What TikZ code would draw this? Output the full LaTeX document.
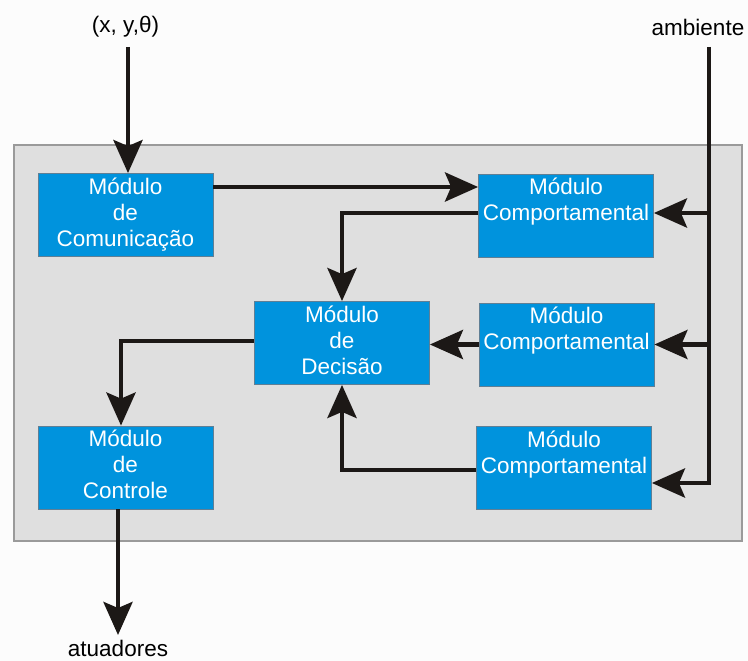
\documentclass[tikz,border=0pt]{standalone}
\usepackage{fontspec}
\setmainfont{Liberation Sans}
\usetikzlibrary{arrows.meta}
\definecolor{boxblue}{HTML}{0093DD}
\definecolor{boxedge}{HTML}{5F7F95}
\definecolor{panel}{HTML}{DFDFDF}
\definecolor{paneledge}{HTML}{9A9A9A}
\definecolor{ink}{HTML}{1C1816}
\definecolor{bg}{HTML}{FCFCFC}
\tikzset{
  modbox/.style={draw=boxedge, line width=0.8pt, fill=boxblue, text=white,
    align=center, minimum width=175pt, minimum height=83pt, inner sep=0pt,
    font=\fontsize{22.5}{26}\selectfont},
  flow/.style={draw=ink, line width=4.5pt, line join=miter,
    -{Stealth[length=33pt,width=29pt,inset=6pt]}},
  lab/.style={font=\fontsize{22.5}{26}\selectfont, text=black, inner sep=0pt, anchor=base}
}
\begin{document}
\begin{tikzpicture}[x=1pt,y=-1pt]
  \fill[bg] (0,0) rectangle (748,661);
  \useasboundingbox (0,0) rectangle (748,661);
  \draw[fill=panel, draw=paneledge, line width=1.2pt] (14,145) rectangle (742,541);

  \node[modbox] (com) at (125.5,215) {\strut Módulo\\\strut de\\\strut Comunicação};
  \node[modbox] (c1)  at (566,215.5) {\strut Módulo\\\strut Comportamental\\\strut};
  \node[modbox] (c2)  at (566.5,344.5) {\strut Módulo\\\strut Comportamental\\\strut};
  \node[modbox] (c3)  at (564,468) {\strut Módulo\\\strut Comportamental\\\strut};
  \node[modbox] (dec) at (342,343) {\strut Módulo\\\strut de\\\strut Decisão};
  \node[modbox] (ctl) at (125.5,467.5) {\strut Módulo\\\strut de\\\strut Controle};

  \node[lab] (xylab) at (125.5,33) {(x, y,θ)};
  \node[lab] (amblab) at (698,36) {ambiente};
  \node[lab] (atlab) at (118,656) {atuadores};

  \coordinate (xytop) at (128,47);
  \coordinate (ambtop) at (709,47);
  \coordinate (atip) at (118,635);

  \draw[flow] (xytop) -- (xytop |- com.north);
  \draw[flow] (com.east |- 0,187) -- (c1.west |- 0,187);

  \draw[flow] (ambtop) |- (c3.east |- 0,483);
  \draw[flow] (ambtop |- 0,213) -- (c1.east |- 0,213);
  \draw[flow] (ambtop |- c2.east) -- (c2.east);

  \draw[flow] (c1.west |- 0,213) -| (dec.north);
  \draw[flow] (c2.west) -- (dec.east |- c2.west);
  \draw[flow] (c3.west |- 0,470) -| (dec.south);
  \draw[flow] (dec.west |- 0,341) -| ([xshift=-4.5pt]ctl.north);
  \draw[flow] ([xshift=-7.5pt]ctl.south) -- (atip);
\end{tikzpicture}
\end{document}
